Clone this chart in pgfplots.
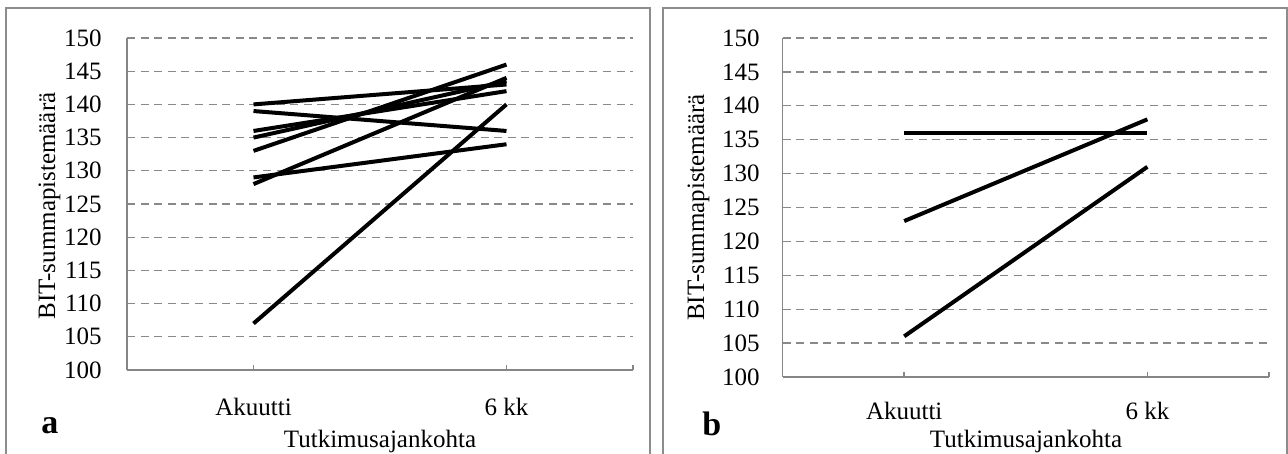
\documentclass[border=0pt]{standalone}
\usepackage{pgfplots}
\pgfplotsset{compat=1.18}
\usepackage{fontspec}
\setmainfont{Liberation Serif}
\definecolor{axgray}{RGB}{134,134,134}
\definecolor{gridgray}{RGB}{137,137,137}
\definecolor{boxgray}{RGB}{140,140,140}
\newcommand{\lf}{\fontsize{12.5bp}{15bp}\selectfont}
\pgfplotsset{
  panel/.style={
    scale only axis, anchor=south west,
    xmin=-0.5, xmax=1.5, ymin=100, ymax=150,
    xtick={0,1}, xticklabels={Akuutti,6 kk},
    extra x ticks={1.5}, extra x tick labels={},
    extra x tick style={grid=none},
    ytick={100,105,...,150},
    axis x line*=bottom, axis y line*=left,
    axis line style={-, draw=axgray, line width=0.75bp},
    ymajorgrids,
    grid style={draw=gridgray, line width=0.65bp, dash pattern=on 4bp off 2.8bp},
    tick align=inside, major tick length=2.5bp,
    xtick style={draw=axgray, line width=0.75bp},
    ytick style={draw=none},
    tick label style={font=\lf},
    /pgf/number format/assume math mode=true,
    /pgf/number format/1000 sep={},
  },
  dl/.style={black, line width=2bp, no marks},
}
\begin{document}
\begin{tikzpicture}
\useasboundingbox (0bp,0bp) rectangle (644bp,227bp);
\clip (0bp,0bp) rectangle (644bp,227bp);
% panel frames
\draw[boxgray, line width=1bp] (3bp,-5bp) -- (3bp,222.75bp) -- (325bp,222.75bp) -- (325bp,-5bp);
\draw[boxgray, line width=1bp] (331.5bp,-5bp) -- (331.5bp,222.75bp) -- (643.5bp,222.75bp) -- (643.5bp,-5bp);
% left panel
\begin{axis}[panel, at={(63.5bp,42bp)}, width=253bp, height=166bp,
  yticklabel style={anchor=east, inner sep=0pt, xshift=-12.5bp},
  xticklabel style={anchor=base, inner sep=0pt, yshift=-22.5bp}]
\addplot[dl] coordinates {(0,140) (1,143)};
\addplot[dl] coordinates {(0,139) (1,136)};
\addplot[dl] coordinates {(0,136) (1,142)};
\addplot[dl] coordinates {(0,135) (1,143.5)};
\addplot[dl] coordinates {(0,133) (1,146)};
\addplot[dl] coordinates {(0,129) (1,134)};
\addplot[dl] coordinates {(0,128) (1,144)};
\addplot[dl] coordinates {(0,107) (1,140)};
\end{axis}
% right panel
\begin{axis}[panel, at={(391.3bp,38.5bp)}, width=243.2bp, height=169.5bp,
  yticklabel style={anchor=east, inner sep=0pt, xshift=-11.3bp},
  xticklabel style={anchor=base, inner sep=0pt, yshift=-21bp}]
\addplot[dl] coordinates {(0,136) (1,136)};
\addplot[dl] coordinates {(0,123) (1,138)};
\addplot[dl] coordinates {(0,106) (1,131)};
\end{axis}
% axis titles
\node[rotate=90, anchor=base, inner sep=0pt, font=\lf] at (27.5bp,124bp) {BIT-summapistemäärä};
\node[rotate=90, anchor=base, inner sep=0pt, font=\lf] at (352bp,123.25bp) {BIT-summapistemäärä};
\node[anchor=base, inner sep=0pt, font=\lf] at (190bp,3.5bp) {Tutkimusajankohta};
\node[anchor=base, inner sep=0pt, font=\lf] at (513bp,3.5bp) {Tutkimusajankohta};
% panel letters
\node[anchor=base west, inner sep=0pt, font=\fontsize{17bp}{20bp}\selectfont\bfseries] at (20.5bp,10.5bp) {a};
\node[anchor=base west, inner sep=0pt, font=\fontsize{17bp}{20bp}\selectfont\bfseries] at (351bp,9.5bp) {b};
\end{tikzpicture}
\end{document}
